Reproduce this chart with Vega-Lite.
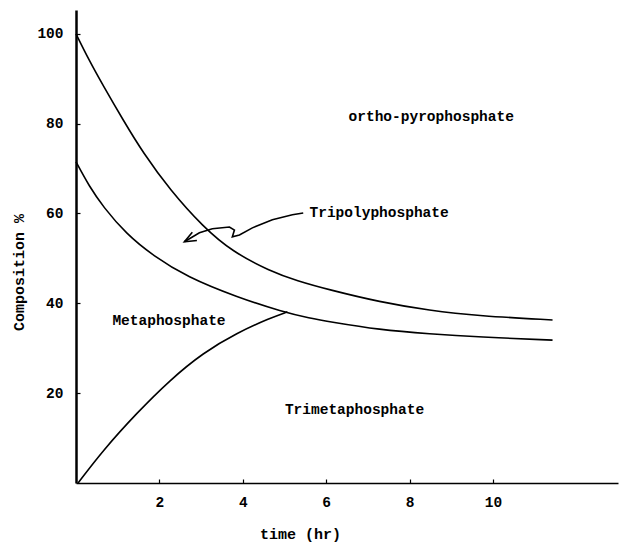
{
  "$schema": "https://vega.github.io/schema/vega-lite/v6.json",
  "autosize": {"type": "none"},
  "padding": {"left": 76, "top": 10, "right": 7, "bottom": 62},
  "width": 542,
  "height": 473,
  "background": "white",
  "config": {
    "view": {"stroke": null},
    "axis": {
      "grid": false,
      "domainColor": "black",
      "tickColor": "black",
      "labelColor": "black",
      "titleColor": "black",
      "labelFont": "Liberation Mono",
      "titleFont": "Liberation Mono",
      "labelFontWeight": "bold",
      "titleFontWeight": "bold",
      "labelFontSize": 14.5,
      "titleFontSize": 15
    }
  },
  "datasets": {
    "curves": [
      {"series": "upper", "i": 0, "t": 0, "v": 100},
      {"series": "upper", "i": 1, "t": 0.32, "v": 94.0},
      {"series": "upper", "i": 2, "t": 0.65, "v": 88.5},
      {"series": "upper", "i": 3, "t": 1.13, "v": 80.8},
      {"series": "upper", "i": 4, "t": 1.61, "v": 73.5},
      {"series": "upper", "i": 5, "t": 2.25, "v": 65.3},
      {"series": "upper", "i": 6, "t": 3.05, "v": 57},
      {"series": "upper", "i": 7, "t": 3.75, "v": 51.5},
      {"series": "upper", "i": 8, "t": 4.65, "v": 47.2},
      {"series": "upper", "i": 9, "t": 5.3, "v": 45},
      {"series": "upper", "i": 10, "t": 6.08, "v": 43},
      {"series": "upper", "i": 11, "t": 7.28, "v": 40.3},
      {"series": "upper", "i": 12, "t": 8.48, "v": 38.4},
      {"series": "upper", "i": 13, "t": 9.67, "v": 37.2},
      {"series": "upper", "i": 14, "t": 11.43, "v": 36.3},
      {"series": "middle", "i": 0, "t": 0, "v": 71.5},
      {"series": "middle", "i": 1, "t": 0.32, "v": 66},
      {"series": "middle", "i": 2, "t": 0.65, "v": 61.5},
      {"series": "middle", "i": 3, "t": 1.2, "v": 55.5},
      {"series": "middle", "i": 4, "t": 1.85, "v": 50.6},
      {"series": "middle", "i": 5, "t": 2.66, "v": 45.9},
      {"series": "middle", "i": 6, "t": 3.86, "v": 41.4},
      {"series": "middle", "i": 7, "t": 4.96, "v": 38.1},
      {"series": "middle", "i": 8, "t": 5.61, "v": 36.7},
      {"series": "middle", "i": 9, "t": 6.08, "v": 35.9},
      {"series": "middle", "i": 10, "t": 7.28, "v": 34.1},
      {"series": "middle", "i": 11, "t": 8.48, "v": 33.2},
      {"series": "middle", "i": 12, "t": 9.67, "v": 32.5},
      {"series": "middle", "i": 13, "t": 11.43, "v": 31.8},
      {"series": "lower", "i": 0, "t": 0.05, "v": 0},
      {"series": "lower", "i": 1, "t": 0.65, "v": 7.3},
      {"series": "lower", "i": 2, "t": 1.46, "v": 15.6},
      {"series": "lower", "i": 3, "t": 2.25, "v": 22.9},
      {"series": "lower", "i": 4, "t": 3.05, "v": 29},
      {"series": "lower", "i": 5, "t": 3.86, "v": 33.4},
      {"series": "lower", "i": 6, "t": 4.65, "v": 36.7},
      {"series": "lower", "i": 7, "t": 5.07, "v": 38.1}
    ],
    "arrow": [
      {"series": "arrow", "i": 0, "t": 2.6, "v": 53.7},
      {"series": "arrow", "i": 1, "t": 2.96, "v": 55.7},
      {"series": "arrow", "i": 2, "t": 3.27, "v": 56.6},
      {"series": "arrow", "i": 3, "t": 3.68, "v": 57.0},
      {"series": "arrow", "i": 4, "t": 3.8, "v": 56.3},
      {"series": "arrow", "i": 5, "t": 3.75, "v": 54.8},
      {"series": "arrow", "i": 6, "t": 3.92, "v": 55.2},
      {"series": "arrow", "i": 7, "t": 4.23, "v": 56.8},
      {"series": "arrow", "i": 8, "t": 4.71, "v": 58.6},
      {"series": "arrow", "i": 9, "t": 5.19, "v": 59.7},
      {"series": "arrow", "i": 10, "t": 5.45, "v": 60.1},
      {"series": "barb", "i": 0, "t": 2.79, "v": 55.8},
      {"series": "barb", "i": 1, "t": 2.6, "v": 53.7},
      {"series": "barb", "i": 2, "t": 2.9, "v": 54.0}
    ],
    "labels": [
      {"label": "ortho-pyrophosphate", "t": 8.52, "v": 81.5},
      {"label": "Metaphosphate", "t": 2.23, "v": 36.1},
      {"label": "Trimetaphosphate", "t": 6.68, "v": 16.3}
    ],
    "leftlabels": [
      {"label": "Tripolyphosphate", "t": 5.6, "v": 60.1}
    ]
  },
  "layer": [
    {
      "data": {"name": "curves"},
      "mark": {"type": "line", "color": "black", "strokeWidth": 1.6, "interpolate": "basis"},
      "encoding": {
        "x": {
          "field": "t", "type": "quantitative",
          "scale": {"domain": [0, 13], "nice": false, "zero": false},
          "axis": {
            "values": [2, 4, 6, 8, 10],
            "title": "time (hr)",
            "domainWidth": 1.6,
            "tickSize": -4,
            "tickWidth": 1.2,
            "labelPadding": 16,
            "labelBaseline": "top",
            "titleX": 224,
            "titleY": 50,
            "titleAlign": "center",
            "titleBaseline": "middle"
          }
        },
        "y": {
          "field": "v", "type": "quantitative",
          "scale": {"domain": [0, 105.3], "nice": false},
          "axis": {
            "values": [20, 40, 60, 80, 100],
            "title": "Composition  %",
            "domainWidth": 2.5,
            "tickSize": -4,
            "tickWidth": 1.2,
            "labelPadding": 17,
            "titleX": -58,
            "titleY": 262,
            "titleAlign": "center",
            "titleBaseline": "middle"
          }
        },
        "detail": {"field": "series"},
        "order": {"field": "i", "type": "quantitative"}
      }
    },
    {
      "data": {"name": "arrow"},
      "mark": {"type": "line", "color": "black", "strokeWidth": 1.6, "interpolate": "linear"},
      "encoding": {
        "x": {"field": "t", "type": "quantitative"},
        "y": {"field": "v", "type": "quantitative"},
        "detail": {"field": "series"},
        "order": {"field": "i", "type": "quantitative"}
      }
    },
    {
      "data": {"name": "labels"},
      "mark": {"type": "text", "font": "Liberation Mono", "fontWeight": "bold", "fontSize": 14.5, "color": "black", "baseline": "middle", "align": "center"},
      "encoding": {
        "x": {"field": "t", "type": "quantitative"},
        "y": {"field": "v", "type": "quantitative"},
        "text": {"field": "label"}
      }
    },
    {
      "data": {"name": "leftlabels"},
      "mark": {"type": "text", "font": "Liberation Mono", "fontWeight": "bold", "fontSize": 14.5, "color": "black", "baseline": "middle", "align": "left"},
      "encoding": {
        "x": {"field": "t", "type": "quantitative"},
        "y": {"field": "v", "type": "quantitative"},
        "text": {"field": "label"}
      }
    }
  ]
}
